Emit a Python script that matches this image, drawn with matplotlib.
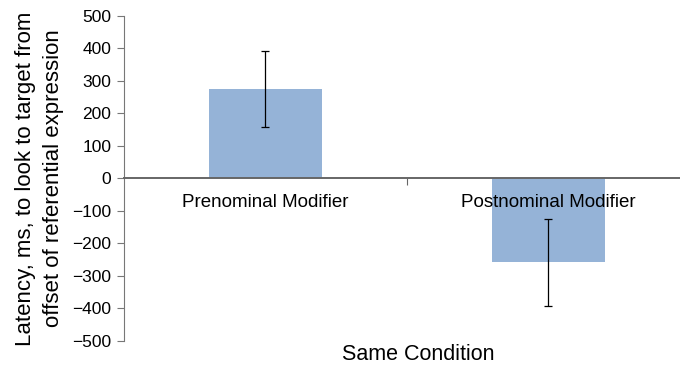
import matplotlib
matplotlib.use('Agg')
import matplotlib.pyplot as plt

categories = ['Prenominal Modifier', 'Postnominal Modifier']
latency = [274, -258]
errors = [117, 133]

plt.rcParams['font.family'] = ['Liberation Sans', 'DejaVu Sans']

fig = plt.figure(figsize=(6.8, 3.69), dpi=100)
ax = fig.add_axes([0.182, 0.076, 0.818, 0.881])

x = list(range(len(categories)))
ax.bar(x, latency, width=0.40, color='#95b3d7', zorder=2)
ax.errorbar(x, latency, yerr=errors, fmt='none', ecolor='black',
            elinewidth=0.9, capsize=3, capthick=0.9, zorder=3)

ax.set_ylim(-500, 500)
ax.set_xlim(-0.5, 1.465)
ax.set_yticks(range(-500, 501, 100))
ax.tick_params(axis='y', labelsize=12.5, length=5, width=0.8, color='#777777', pad=4)

for s in ['top', 'right']:
    ax.spines[s].set_visible(False)
ax.spines['left'].set_color('#777777')
ax.spines['bottom'].set_color('#666666')
ax.spines['bottom'].set_linewidth(1.4)
ax.spines['bottom'].set_position(('data', 0))
ax.spines['bottom'].set_zorder(4)

# category names drawn as text so they sit on top of the bars
ax.set_xticks(x)
ax.set_xticklabels([])
ax.tick_params(axis='x', length=0)
ax.set_xticks([0.5], minor=True)
ax.tick_params(axis='x', which='minor', length=5, width=0.8, color='#666666', direction='out')
for xi, name in zip(x, categories):
    ax.text(xi, -74, name, fontsize=13.5, ha='center', va='center', zorder=5)

ax.set_ylabel('Latency, ms, to look to target from\noffset of referential expression',
              fontsize=16, linespacing=1.45, labelpad=6)
fig.text(418 / 680, 1 - 354 / 369, 'Same Condition', fontsize=15.5, ha='center', va='center')

fig.savefig('out.png', dpi=100)
